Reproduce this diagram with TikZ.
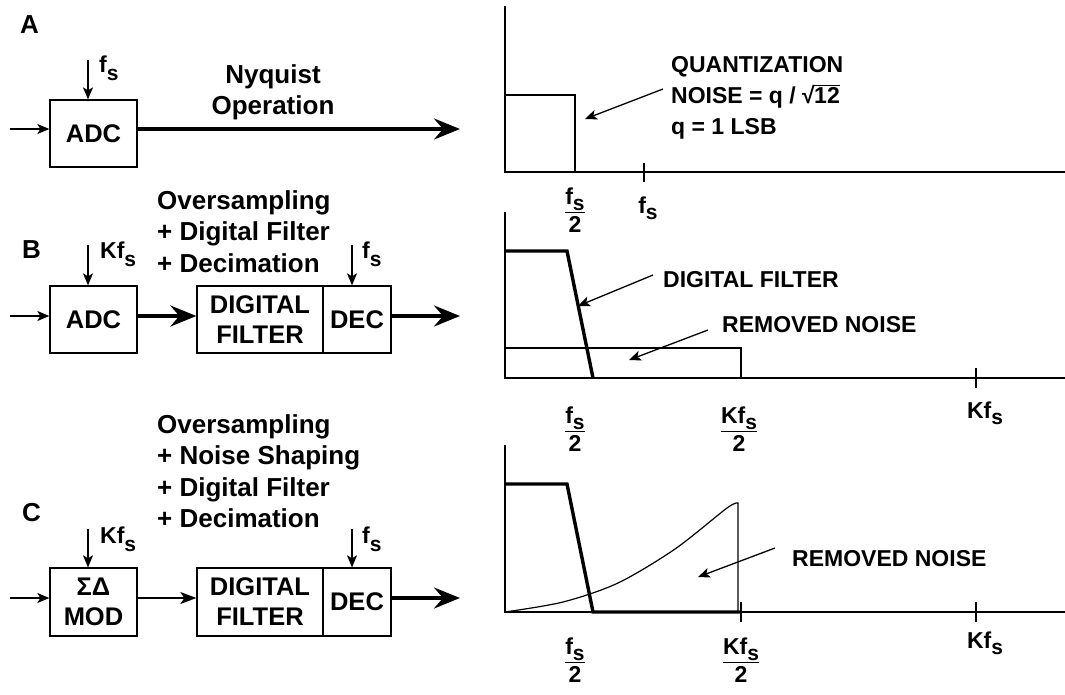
\documentclass[tikz,border=0pt]{standalone}
\usepackage{fontspec}
\setmainfont{Liberation Sans}
\usetikzlibrary{arrows.meta}
\newcommand{\lsb}{\raisebox{-8pt}{\fontsize{21}{21}\selectfont s}}
\newcommand{\rsb}{\raisebox{-6pt}{\fontsize{21}{21}\selectfont s}}
\newcommand{\myrt}[1]{√\kern-0.6pt\vbox{\hrule height 1.1pt\kern 1.2pt\hbox{#1}}}
\begin{document}
\begin{tikzpicture}[x=1pt,y=-1pt,
  blk/.style={draw, line width=1.3pt, inner sep=0, align=center,
    font=\fontsize{25.5}{30}\selectfont\bfseries},
  lbl/.style={inner sep=0, align=left, font=\fontsize{26}{31.5}\selectfont\bfseries},
  clk/.style={inner sep=0, font=\fontsize{23}{24}\selectfont\bfseries},
  rl/.style={inner sep=0, align=left, font=\fontsize{23}{31}\selectfont\bfseries},
  frac/.style={inner sep=0, align=center, font=\fontsize{23}{28}\selectfont\bfseries},
  thinarr/.style={line width=1.3pt, -{Stealth[length=12pt,width=10pt,inset=3pt]}},
  midarr/.style={line width=1.3pt, -{Stealth[length=16pt,width=12pt,inset=4pt]}},
  thickarr/.style={line width=3.8pt, -{Stealth[length=26pt,width=21pt,inset=9pt]}},
  axis/.style={line width=1.5pt},
  filt/.style={line width=3.4pt, line join=miter},
  tick/.style={line width=1.5pt}]
\useasboundingbox (0,0) rectangle (1065,694);

% ---------------- Panel A ----------------
\node[lbl, anchor=base west] (labA) at (20,33) {A};
\node[blk, minimum width=87pt, minimum height=67pt] (adcA) at (93.5,133.5) {ADC};
\coordinate (inA) at (10,129);
\draw[thinarr] (inA) -- (inA -| adcA.west);
\coordinate (outA) at (460,129);
\draw[thickarr] (adcA.east |- outA) -- (outA);
\coordinate (clkA) at (88,60);
\draw[thinarr] (clkA) -- (clkA |- adcA.north);
\node[clk, anchor=base west] (fsA) at (99,72) {f\lsb};
\node[lbl, align=center, anchor=north] (nyq) at (273,64) {Nyquist\\Operation};

% spectrum A
\coordinate (oA) at (505,172);
\coordinate (topA) at (505,6);
\coordinate (endA) at (1065,172);
\draw[axis] (topA) -- (oA) -- (endA);
\draw[line width=1.3pt] (505,95) -- (575,95) -- (575,172);
\coordinate (tkA1) at (644,163);
\coordinate (tkA2) at (644,182);
\draw[tick] (tkA1) -- (tkA2);
\node[frac, anchor=north] (fA2) at (575,188) {\underline{f\rsb}\\2};
\node[frac, anchor=base] (fA1) at (648,213) {f\rsb};
\node[rl, anchor=north west] (qn) at (671,56) {QUANTIZATION\\NOISE = q / \myrt{12}\\q = 1 LSB};
\coordinate (qpA) at (585,119);
\draw[thinarr] (663,89) coordinate (qs) -- (qpA);

% ---------------- Panel B ----------------
\node[lbl, anchor=base west] (labB) at (22,258) {B};
\node[blk, minimum width=87pt, minimum height=67pt] (adcB) at (93.5,319.5) {ADC};
\node[blk, minimum width=126pt, minimum height=67pt] (dfB) at (260,319.5) {DIGITAL\\FILTER};
\node[blk, minimum width=68pt, minimum height=67pt] (decB) at (357,319.5) {DEC};
\coordinate (inB) at (10,316);
\draw[thinarr] (inB) -- (inB -| adcB.west);
\draw[thickarr] (adcB.east |- inB) -- (dfB.west |- inB);
\coordinate (outB) at (460,316);
\draw[thickarr] (decB.east |- outB) -- (outB);
\coordinate (clkB1) at (88,245);
\draw[thinarr] (clkB1) -- (clkB1 |- adcB.north);
\coordinate (clkB2) at (352,245);
\draw[thinarr] (clkB2) -- (clkB2 |- decB.north);
\node[clk, anchor=base west] (kfB) at (100,258) {Kf\lsb};
\node[clk, anchor=base west] (fsB) at (362,258) {f\lsb};
\node[lbl, anchor=north west] (txtB) at (157,190) {Oversampling\\+ Digital Filter\\+ Decimation};

% spectrum B
\coordinate (oB) at (505,378);
\coordinate (topB) at (505,212);
\coordinate (endB) at (1065,378);
\draw[axis] (topB) -- (oB) -- (endB);
\draw[line width=1.3pt] (505,348) -- (741,348) -- (741,378);
\draw[filt] (505,251) -- (567,251) -- (593,378);
\draw[tick] (976,368) -- (976,388);
\node[frac, anchor=north] (fB2) at (575,407) {\underline{f\rsb}\\2};
\node[frac, anchor=north] (kB2) at (739,407) {\underline{Kf\rsb}\\2};
\node[frac, anchor=base] (kB1) at (985,418) {Kf\rsb};
\node[rl, anchor=base west] (dfl) at (663,287) {DIGITAL FILTER};
\node[rl, anchor=base west] (rnB) at (722,332) {REMOVED NOISE};
\draw[thinarr] (653,275) -- (578,306);
\draw[thinarr] (708,330) -- (629,360);

% ---------------- Panel C ----------------
\node[lbl, anchor=base west] (labC) at (22,521) {C};
\node[blk, minimum width=87pt, minimum height=68pt] (modC) at (93.5,602) {ΣΔ\\MOD};
\node[blk, minimum width=126pt, minimum height=68pt] (dfC) at (260,602) {DIGITAL\\FILTER};
\node[blk, minimum width=68pt, minimum height=68pt] (decC) at (357,602) {DEC};
\coordinate (inC) at (10,598);
\draw[thinarr] (inC) -- (inC -| modC.west);
\draw[midarr] (modC.east |- inC) -- (dfC.west |- inC);
\coordinate (outC) at (460,598);
\draw[thickarr] (decC.east |- outC) -- (outC);
\coordinate (clkC1) at (88,529);
\draw[thinarr] (clkC1) -- (clkC1 |- modC.north);
\coordinate (clkC2) at (352,529);
\draw[thinarr] (clkC2) -- (clkC2 |- decC.north);
\node[clk, anchor=base west] (kfC) at (100,543) {Kf\lsb};
\node[clk, anchor=base west] (fsC) at (362,543) {f\lsb};
\node[lbl, anchor=north west] (txtC) at (157,414) {Oversampling\\+ Noise Shaping\\+ Digital Filter\\+ Decimation};

% spectrum C
\coordinate (oC) at (505,612);
\coordinate (topC) at (505,445);
\coordinate (endC) at (1065,612);
\draw[axis] (topC) -- (oC) -- (endC);
\draw[line width=1.2pt] plot[smooth, tension=0.5] coordinates {(505,612) (563,602) (618,583) (675,549) (727,508) (738,503)} -- (738,612);
\draw[filt] (505,484) -- (567,484) -- (593,612) -- (741,612);
\draw[tick] (741,602) -- (741,622);
\draw[tick] (976,602) -- (976,622);
\node[frac, anchor=north] (fC2) at (575,638) {\underline{f\rsb}\\2};
\node[frac, anchor=north] (kC2) at (741,638) {\underline{Kf\rsb}\\2};
\node[frac, anchor=base] (kC1) at (985,648) {Kf\rsb};
\node[rl, anchor=base west] (rnC) at (792,566) {REMOVED NOISE};
\draw[thinarr] (775,548) -- (698,577);
\end{tikzpicture}
\end{document}
